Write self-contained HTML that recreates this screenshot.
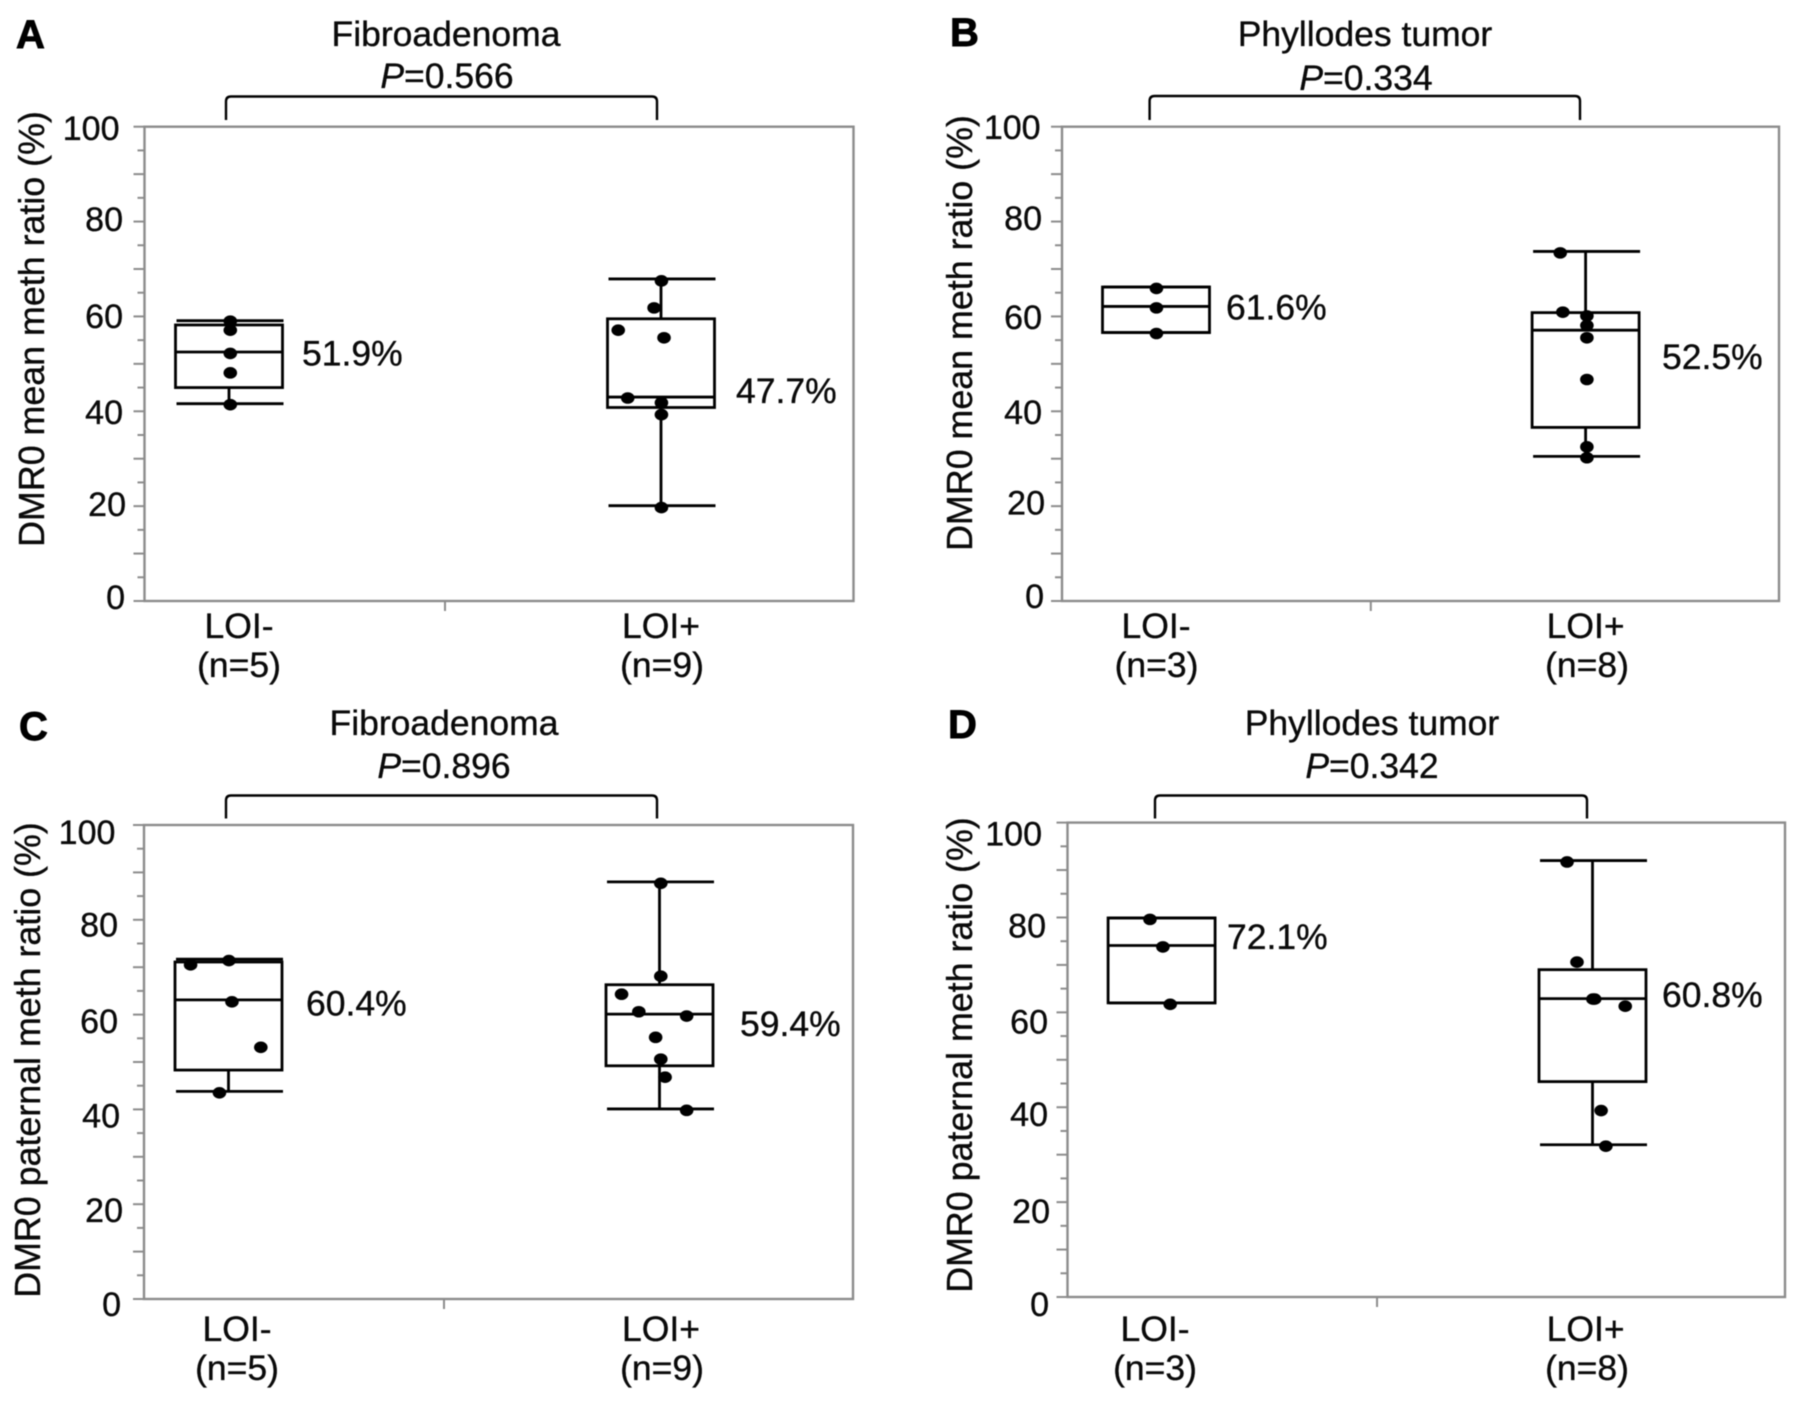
<!DOCTYPE html>
<html lang="en">
<head>
<meta charset="utf-8">
<title>DMR0 methylation ratio box plots by LOI status</title>
<style>
  html, body { margin: 0; padding: 0; background: #ffffff; }
  #figure { display: block; width: 1795px; height: 1403px; background: #ffffff; filter: blur(0.5px); }
  text { font-family: "Liberation Sans", Arial, sans-serif; fill: #0a0a0a; stroke: #0a0a0a; stroke-width: 0.35px; }
</style>
</head>
<body>
<svg id="figure" xmlns="http://www.w3.org/2000/svg" width="1795" height="1403" viewBox="0 0 1795 1403"></svg>
<script>
// ---- Shared axis data ----
var yMajorTicks = [0, 20, 40, 60, 80, 100];
var yGridTicks = [10, 30, 50, 70, 90];
var yMinorTicks = [5, 15, 25, 35, 45, 55, 65, 75, 85, 95];

// ---- Box statistics: [upper whisker, Q3, median, Q1, lower whisker] ----
var statsANeg = [59.1, 58.2, 52.5, 45.0, 41.6];
var statsAPos = [67.9, 59.5, 43.0, 40.8, 20.1];
var statsBNeg = [66.2, 66.2, 62.1, 56.6, 56.6];
var statsBPos = [73.7, 60.8, 57.1, 36.6, 30.5];
var statsCNeg = [71.7, 71.1, 63.1, 48.3, 43.8];
var statsCPos = [88.0, 66.3, 60.1, 49.2, 40.1];
var statsDNeg = [79.9, 79.9, 74.1, 62.0, 62.0];
var statsDPos = [92.0, 69.0, 62.9, 45.4, 32.1];

// ---- Individual samples (y value, and x jitter in category units) ----
var pointsANeg = [59.0, 57.1, 52.2, 48.1, 41.4];
var jitterANeg = [0.003, 0.003, 0.003, 0.003, 0.003];
var pointsAPos = [67.5, 61.8, 57.1, 55.5, 42.8, 41.8, 39.3, 19.7];
var jitterAPos = [0.001, -0.016, -0.099, 0.007, -0.077, 0.001, 0.001, 0.001];
var pointsBNeg = [65.9, 61.8, 56.4];
var jitterBNeg = [0.001, 0.001, 0.001];
var pointsBPos = [73.4, 60.9, 60.1, 58.1, 55.5, 46.7, 32.5, 30.2];
var jitterBPos = [-0.059, -0.053, 0.003, 0.003, 0.003, 0.003, 0.003, 0.003];
var pointsCNeg = [70.5, 71.4, 62.7, 53.1, 43.5];
var jitterCNeg = [-0.088, 0.001, 0.008, 0.075, -0.021];
var pointsCPos = [87.7, 68.1, 64.3, 60.6, 59.7, 55.2, 50.6, 46.8, 39.8];
var jitterCPos = [0.003, 0.003, -0.088, -0.048, 0.063, -0.009, 0.003, 0.013, 0.063];
var pointsDNeg = [79.6, 73.8, 61.7];
var jitterDNeg = [-0.027, 0.003, 0.02];
var pointsDPos = [91.7, 70.6, 62.8, 62.8, 61.3, 39.3, 31.8];
var jitterDPos = [-0.059, -0.036, 0.001, 0.005, 0.076, 0.02, 0.031];

// ---- Printed labels ----
var panelLetters = ["A", "B", "C", "D"];
var panelTitles = ["Fibroadenoma", "Phyllodes tumor", "Fibroadenoma", "Phyllodes tumor"];
var panelPValues = ["0.566", "0.334", "0.896", "0.342"];
var yAxisTitles = ["DMR0 mean meth ratio (%)", "DMR0 mean meth ratio (%)", "DMR0 paternal meth ratio (%)", "DMR0 paternal meth ratio (%)"];
var categoryNames = ["LOI-", "LOI+"];
var categoryCountsA = ["(n=5)", "(n=9)"];
var categoryCountsB = ["(n=3)", "(n=8)"];
var categoryCountsC = ["(n=5)", "(n=9)"];
var categoryCountsD = ["(n=3)", "(n=8)"];
var meanLabelsA = ["51.9%", "47.7%"];
var meanLabelsB = ["61.6%", "52.5%"];
var meanLabelsC = ["60.4%", "59.4%"];
var meanLabelsD = ["72.1%", "60.8%"];

// ---- Panel layout (page geometry, separate from data) ----
var svg = document.getElementById("figure");
var NS = "http://www.w3.org/2000/svg";
var FONT = 35.5;
var TICK_FONT = 34;
var AXIS = "#8c8c8c";

var panels = [
  { id: "a", L: 144.5, R: 853.5, T: 126.7, B: 601, c0: 229, c1: 661,
    letter: [16, 48], titleX: 446, titleY: 46, pX: 447, pY: 88,
    br: [226, 657, 96.5, 120], catX: [239, 661], countX: [239, 662], catY: 638, countY: 677,
    meanPos: [[302, 365.5], [736, 403]], ytX: 44, ytC: 329, tickR: 123,
    labelDy: [8, 9.7, 12.9, 11.7, 9.4, 13.3], labelDx: [2, 3, 0, 0, 0, -3.5],
    stats: [statsANeg, statsAPos], pts: [pointsANeg, pointsAPos], jit: [jitterANeg, jitterAPos],
    counts: categoryCountsA, means: meanLabelsA },
  { id: "b", L: 1062, R: 1779, T: 126.7, B: 601, c0: 1156, c1: 1585.6,
    letter: [950, 46], titleX: 1365, titleY: 46, pX: 1366, pY: 90,
    br: [1149.6, 1580, 96, 120], catX: [1156, 1585.6], countX: [1156.5, 1587], catY: 638, countY: 677,
    meanPos: [[1226, 319.5], [1662, 369]], ytX: 972, ytC: 333, tickR: 1042,
    labelDy: [7, 8.5, 12.6, 12.5, 8.2, 12.3], labelDx: [2, 3, 0, 0, 0, -1.4],
    stats: [statsBNeg, statsBPos], pts: [pointsBNeg, pointsBPos], jit: [jitterBNeg, jitterBPos],
    counts: categoryCountsB, means: meanLabelsB },
  { id: "c", L: 144, R: 853, T: 825, B: 1299, c0: 228.5, c1: 659.5,
    letter: [19, 740], titleX: 444, titleY: 735, pX: 444, pY: 778,
    br: [226, 657, 795.5, 818.5], catX: [237, 661], countX: [237, 662], catY: 1341, countY: 1380,
    meanPos: [[306, 1015.5], [740, 1036]], ytX: 40, ytC: 1060, tickR: 119,
    labelDy: [17, 17.8, 18, 18.6, 16.8, 19], labelDx: [2, 4, 1, -1, -1, -3.6],
    stats: [statsCNeg, statsCPos], pts: [pointsCNeg, pointsCPos], jit: [jitterCNeg, jitterCPos],
    counts: categoryCountsC, means: meanLabelsC },
  { id: "d", L: 1067.5, R: 1785, T: 822.6, B: 1297, c0: 1161.6, c1: 1592.5,
    letter: [948, 738], titleX: 1372, titleY: 735, pX: 1372, pY: 778,
    br: [1155, 1587, 795.5, 818.5], catX: [1155, 1585.6], countX: [1155, 1587], catY: 1341, countY: 1380,
    meanPos: [[1227, 949], [1662, 1007]], ytX: 972, ytC: 1055, tickR: 1047,
    labelDy: [19, 20.7, 19, 21, 19.9, 23], labelDx: [2, 3, 1, 1, -1, -5],
    stats: [statsDNeg, statsDPos], pts: [pointsDNeg, pointsDPos], jit: [jitterDNeg, jitterDPos],
    counts: categoryCountsD, means: meanLabelsD }
];

function make(tag, attrs, parent) {
  var node = document.createElementNS(NS, tag);
  for (var k in attrs) { node.setAttribute(k, attrs[k]); }
  parent.appendChild(node);
  return node;
}

function yScale(p, v) { return p.B - (v / 100) * (p.B - p.T); }
function xScale(p, c) { return p.c0 + c * (p.c1 - p.c0); }

panels.forEach(function (p, i) {
  var g = make("g", {}, svg);
  
  

  // Panel letter
  var letter = make("text", { x: p.letter[0], y: p.letter[1], "font-size": 40, "font-weight": "bold", style: "fill:#000;stroke:#000;stroke-width:0.9px" }, g);
  letter.textContent = panelLetters[i];
  
  

  // Title and P value
  var title = make("text", { x: p.titleX, y: p.titleY, "font-size": FONT, "text-anchor": "middle" }, g);
  title.textContent = panelTitles[i];
  
  

  var pv = make("text", { x: p.pX, y: p.pY, "font-size": FONT, "text-anchor": "middle" }, g);
  var pItalic = make("tspan", { "font-style": "italic" }, pv);
  pItalic.textContent = "P";
  var pRest = make("tspan", {}, pv);
  pRest.textContent = "=" + panelPValues[i];
  
  

  // Significance bracket
  var r = 5;
  var bracket = make("path", {
    d: "M" + p.br[0] + " " + p.br[3] + " V" + (p.br[2] + r) + " Q" + p.br[0] + " " + p.br[2] + " " + (p.br[0] + r) + " " + p.br[2] +
       " H" + (p.br[1] - r) + " Q" + p.br[1] + " " + p.br[2] + " " + p.br[1] + " " + (p.br[2] + r) + " V" + p.br[3],
    fill: "none", stroke: "#000", "stroke-width": 2.4
  }, g);
  
  

  // Plot frame
  var frame = make("rect", { x: p.L, y: p.T, width: p.R - p.L, height: p.B - p.T, fill: "#fff", stroke: AXIS, "stroke-width": 2.4 }, g);
  
  

  // Y ticks
  yMajorTicks.concat(yGridTicks).forEach(function (v) {
    var t = make("line", { x1: p.L - 11, x2: p.L, y1: yScale(p, v), y2: yScale(p, v), stroke: AXIS, "stroke-width": 2 }, g);
    
    
  });
  yMinorTicks.forEach(function (v) {
    var t = make("line", { x1: p.L - 7, x2: p.L, y1: yScale(p, v), y2: yScale(p, v), stroke: AXIS, "stroke-width": 2 }, g);
    
    
  });
  yMajorTicks.forEach(function (v, k) {
    var t = make("text", { x: p.tickR + p.labelDx[k], y: yScale(p, v) + p.labelDy[k], "font-size": TICK_FONT, "text-anchor": "end" }, g);
    t.textContent = String(v);
    
    
  });

  // Y axis title
  var yt = make("text", { transform: "translate(" + p.ytX + " " + p.ytC + ") rotate(-90)", "font-size": 35.8, "text-anchor": "middle" }, g);
  yt.textContent = yAxisTitles[i];
  
  

  // X tick between the categories
  var xt = make("line", { x1: xScale(p, 0.5), x2: xScale(p, 0.5), y1: p.B, y2: p.B + 10, stroke: AXIS, "stroke-width": 2 }, g);
  
  

  // Categories
  categoryNames.forEach(function (name, c) {
    var cat = make("text", { x: p.catX[c], y: p.catY, "font-size": FONT, "text-anchor": "middle" }, g);
    cat.textContent = name;
    
    

    var cnt = make("text", { x: p.countX[c], y: p.countY, "font-size": FONT, "text-anchor": "middle" }, g);
    cnt.textContent = p.counts[c];
    
    

    var mean = make("text", { x: p.meanPos[c][0], y: p.meanPos[c][1], "font-size": FONT }, g);
    mean.textContent = p.means[c];
    
    

    var s = p.stats[c];
    var cx = xScale(p, c);
    var hw = 53.5;
    var SW = 2.8;

    var box = make("g", {}, g);
    
    

    function seg(x1, y1, x2, y2) {
      return make("line", { x1: x1, y1: y1, x2: x2, y2: y2, stroke: "#000", "stroke-width": SW }, box);
    }
    var wu = seg(cx, yScale(p, s[0]), cx, yScale(p, s[1]));
    
    
    var wl = seg(cx, yScale(p, s[3]), cx, yScale(p, s[4]));
    
    
    var cu = seg(cx - hw + 1, yScale(p, s[0]), cx + hw + 1, yScale(p, s[0]));
    
    
    var cl = seg(cx - hw + 1, yScale(p, s[4]), cx + hw + 1, yScale(p, s[4]));
    
    

    var rect = make("rect", { x: cx - hw, y: yScale(p, s[1]), width: hw * 2, height: yScale(p, s[3]) - yScale(p, s[1]), fill: "none", stroke: "#000", "stroke-width": SW }, box);
    
    

    var med = seg(cx - hw, yScale(p, s[2]), cx + hw, yScale(p, s[2]));
    
    

    p.pts[c].forEach(function (v, k) {
      var dot = make("ellipse", { cx: xScale(p, c + p.jit[c][k]), cy: yScale(p, v), rx: 6.8, ry: 5.8, fill: "#000" }, box);
      
      
    });
  });
});
</script>
</body>
</html>
